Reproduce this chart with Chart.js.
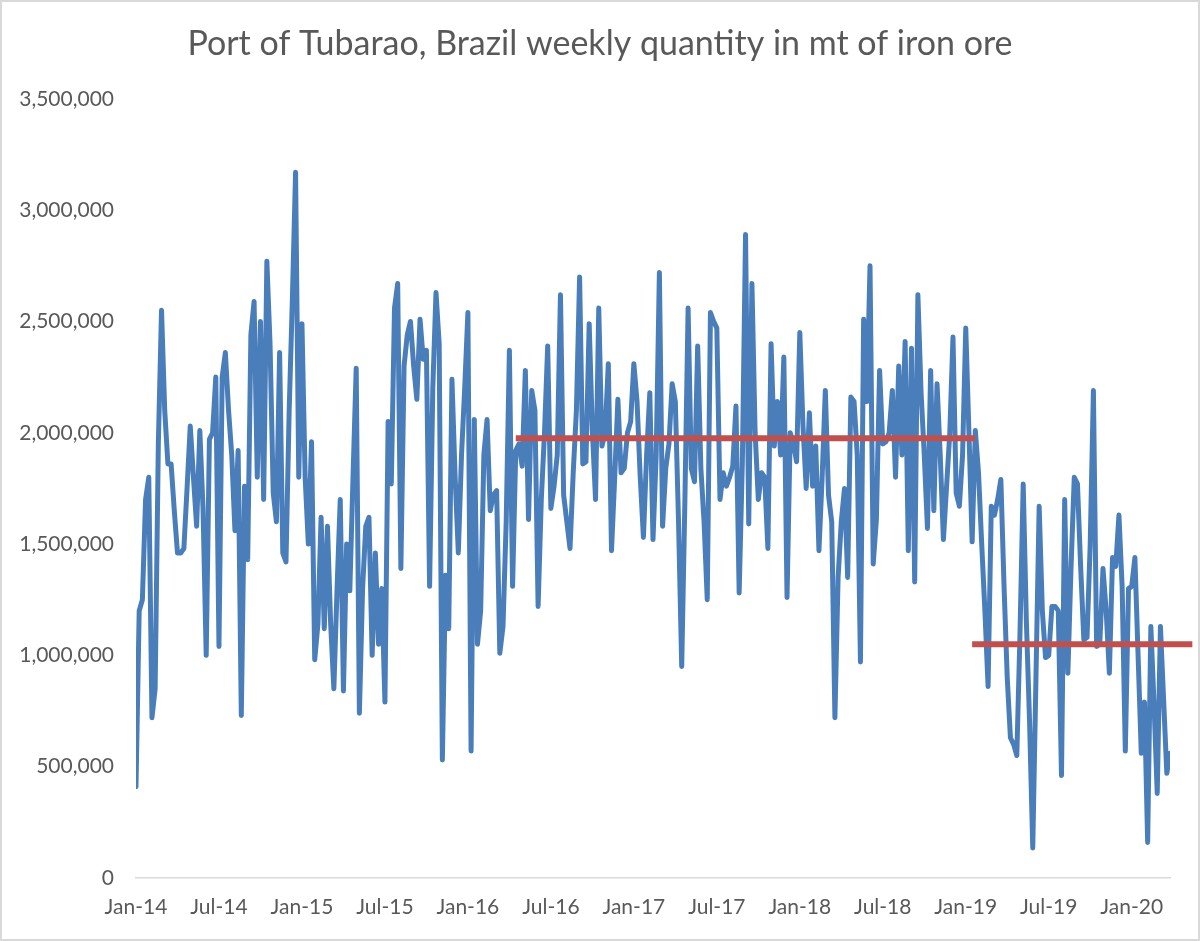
<!DOCTYPE html>
<html>
<head>
<meta charset="utf-8">
<script src="https://cdn.jsdelivr.net/npm/chart.js@4.4.1/dist/chart.umd.min.js"></script>
<style>
  html, body { margin: 0; padding: 0; background: #ffffff; }
  #wrap { width: 1200px; height: 941px; box-sizing: border-box; border: 2px solid #d9d9d9; background: #fff; }
  canvas { display: block; }
</style>
</head>
<body>
<div id="wrap"><canvas id="c" width="1196" height="937"></canvas></div>
<script>
// Weekly quantity (mt), one value per week starting first week of Jan 2014
const weeklyQuantity = [
  410000,1200000,1250000,1700000,1800000,720000,850000,1950000,2550000,2100000,
  1860000,1860000,1650000,1460000,1460000,1480000,1750000,2030000,1800000,1580000,
  2010000,1660000,1000000,1970000,2000000,2250000,1040000,2250000,2360000,2100000,
  1900000,1560000,1920000,730000,1760000,1430000,2440000,2590000,1800000,2500000,
  1700000,2770000,2400000,1730000,1600000,2360000,1460000,1420000,2100000,2600000,
  3170000,1800000,2490000,1800000,1500000,1960000,980000,1140000,1620000,1120000,
  1580000,1140000,850000,1300000,1700000,840000,1500000,1290000,1800000,2290000,
  740000,1300000,1580000,1620000,1000000,1460000,1050000,1300000,790000,2050000,
  1770000,2560000,2670000,1390000,2300000,2440000,2500000,2300000,2150000,2510000,
  2330000,2370000,1310000,2200000,2630000,2400000,530000,1360000,1120000,2240000,
  1800000,1460000,1900000,2200000,2540000,570000,2060000,1050000,1200000,1900000,
  2060000,1650000,1720000,1740000,1010000,1130000,1600000,2370000,1310000,1920000,
  1950000,1850000,2280000,1610000,2190000,2100000,1220000,1700000,2000000,2390000,
  1660000,1760000,1900000,2620000,1720000,1600000,1480000,1820000,2100000,2700000,
  1860000,1870000,2490000,2010000,1700000,2560000,1940000,2000000,2310000,1470000,
  1800000,2150000,1820000,1840000,2000000,2050000,2310000,2140000,1800000,1530000,
  1900000,2180000,1520000,1900000,2720000,1580000,1840000,1950000,2220000,2140000,
  1600000,950000,1700000,2560000,1840000,1780000,2390000,1840000,1600000,1250000,
  2540000,2500000,2470000,1700000,1820000,1760000,1800000,1850000,2120000,1280000,
  1870000,2890000,1590000,2670000,2000000,1700000,1820000,1800000,1480000,2400000,
  1940000,2140000,1900000,2340000,1260000,2000000,1950000,1870000,2450000,2030000,
  1750000,2090000,1760000,1940000,1470000,1800000,2190000,1720000,1600000,720000,
  1350000,1600000,1750000,1350000,2160000,2140000,1900000,970000,2510000,2140000,
  2750000,1410000,1610000,2280000,1950000,1960000,2000000,2190000,1800000,2300000,
  1900000,2410000,1470000,2380000,1330000,2620000,2180000,1900000,1570000,2280000,
  1650000,2220000,1900000,1520000,1760000,2000000,2430000,1730000,1670000,1900000,
  2470000,2000000,1510000,2010000,1820000,1500000,1200000,860000,1670000,1630000,
  1700000,1790000,1310000,900000,630000,600000,550000,1100000,1770000,1150000,
  700000,135000,900000,1670000,1200000,990000,1000000,1220000,1220000,1200000,
  460000,1700000,920000,1400000,1800000,1770000,1400000,1070000,1080000,1500000,
  2190000,1040000,1050000,1390000,1200000,920000,1440000,1400000,1630000,1310000,
  570000,1300000,1310000,1440000,1000000,560000,790000,160000,1130000,780000,
  380000,1130000,800000,470000,560000
];

// x-axis tick labels, one every 26 weeks
const tickLabels = ["Jan-14","Jul-14","Jan-15","Jul-15","Jan-16","Jul-16","Jan-17","Jul-17","Jan-18","Jul-18","Jan-19","Jul-19","Jan-20"];
const weeksPerTick = 26;

// average level lines (week index start/end, value)
const avgStartWeek = [119, 262];
const avgEndWeek   = [263, 331];
const avgLevel     = [1975000, 1050000];

const yTicks = [0, 500000, 1000000, 1500000, 2000000, 2500000, 3000000, 3500000];

const FONT = "Lato, 'Open Sans', sans-serif";
const TXT = "#595959";

const mainData = weeklyQuantity.map((v, i) => ({ x: i, y: v }));
const avgSets = avgLevel.map((lvl, k) => ({
  data: [{ x: avgStartWeek[k], y: lvl }, { x: avgEndWeek[k], y: lvl }],
  borderColor: "#c0504d",
  borderWidth: 6,
  pointRadius: 0,
  borderCapStyle: "butt",
  clip: false,
  order: 0
}));

new Chart(document.getElementById("c"), {
  type: "line",
  data: {
    datasets: [
      ...avgSets,
      {
        data: mainData,
        borderColor: "#4a7ebb",
        borderWidth: 5,
        pointRadius: 0,
        tension: 0,
        borderJoinStyle: "round",
        borderCapStyle: "round",
        order: 1
      }
    ]
  },
  options: {
    responsive: false,
    animation: false,
    events: [],
    layout: { padding: 0 },
    plugins: {
      legend: { display: false },
      tooltip: { enabled: false },
      title: {
        display: true,
        text: "Port of Tubarao, Brazil weekly quantity in mt of iron ore",
        color: TXT,
        font: { family: FONT, size: 34, weight: "normal" },
        padding: { top: 22, bottom: 34 }
      }
    },
    scales: {
      x: {
        type: "linear",
        min: 0,
        max: weeklyQuantity.length - 1,
        grid: { display: false, drawTicks: false },
        border: { display: true, color: "#d9d9d9", width: 1.5 },
        afterBuildTicks: (scale) => {
          scale.ticks = tickLabels.map((_, k) => ({ value: k * weeksPerTick }));
        },
        afterFit: (scale) => { scale.height = 61; },
        ticks: {
          autoSkip: false,
          maxRotation: 0,
          padding: 17,
          color: TXT,
          font: { family: FONT, size: 21 },
          callback: (value) => tickLabels[Math.round(value / weeksPerTick)]
        }
      },
      y: {
        min: 0,
        max: 3500000,
        grid: { display: false, drawTicks: false },
        border: { display: false },
        afterBuildTicks: (scale) => {
          scale.ticks = yTicks.map(v => ({ value: v }));
        },
        afterFit: (scale) => { scale.width = 134; },
        ticks: {
          padding: 22,
          color: TXT,
          font: { family: FONT, size: 21 },
          callback: (value) => value.toLocaleString("en-US")
        }
      },
      yRight: {
        position: "right",
        min: 0,
        max: 1,
        grid: { display: false, drawTicks: false },
        border: { display: false },
        ticks: { display: false },
        afterFit: (scale) => { scale.width = 28; }
      }
    }
  }
});
</script>
</body>
</html>
